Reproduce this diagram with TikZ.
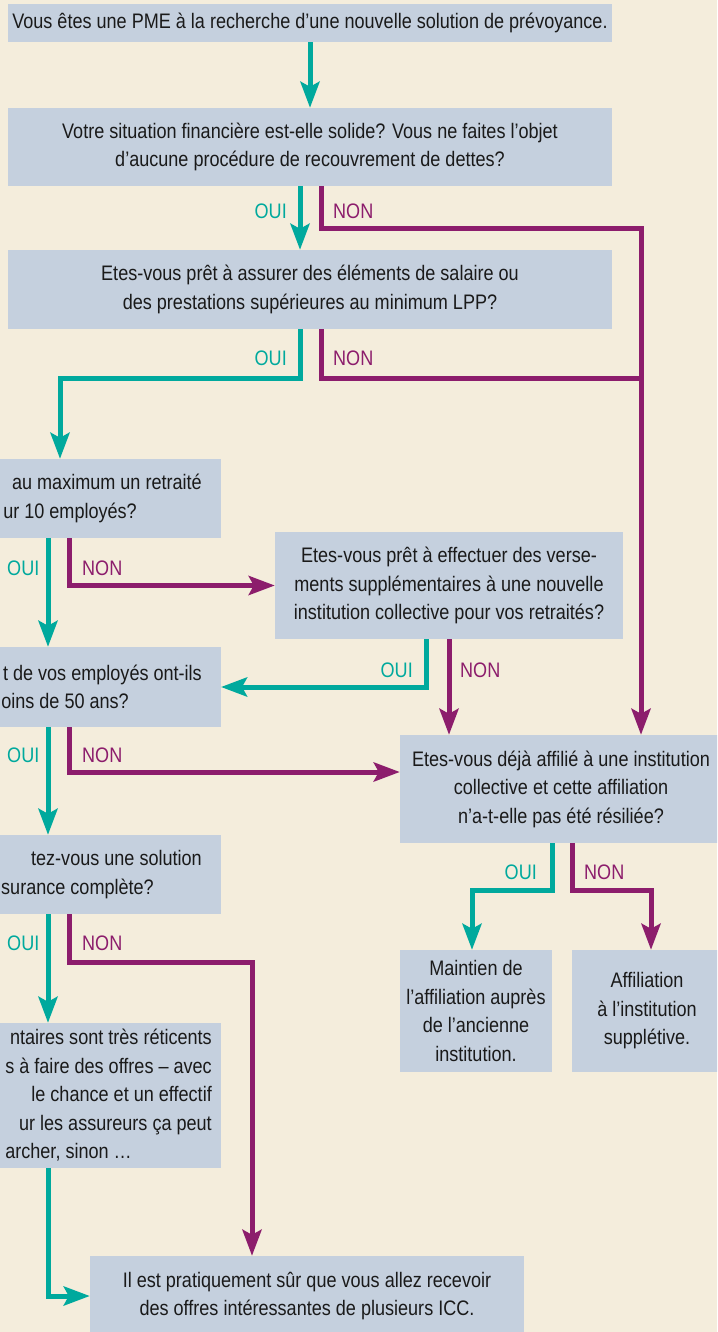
\documentclass[tikz,border=0pt]{standalone}
\usepackage{fontspec}
\setmainfont[FakeStretch=0.86]{Liberation Sans}
\usetikzlibrary{arrows.meta}

\definecolor{bgbeige}{HTML}{F4EDDC}
\definecolor{boxblue}{HTML}{C5D0DE}
\definecolor{ouiteal}{HTML}{00A99D}
\definecolor{nonpurple}{HTML}{8C1D6C}
\definecolor{txtgrey}{HTML}{1A1A1A}

\newcommand{\boxfont}{\fontsize{21}{28.5}\selectfont}

\tikzset{
  qbox/.style={fill=boxblue, text=txtgrey, align=center, inner sep=0pt, font=\boxfont},
  cutbox/.style={qbox, anchor=east, text width=300pt, align=flush right, inner ysep=0pt},
  oui/.style={draw=ouiteal, line width=5pt, -{Stealth[length=26pt,width=19pt,inset=5pt]}},
  non/.style={draw=nonpurple, line width=5pt, -{Stealth[length=26pt,width=19pt,inset=5pt]}},
  nonline/.style={draw=nonpurple, line width=5pt},
  ouilbl/.style={text=ouiteal, inner sep=0pt, font=\boxfont},
  nonlbl/.style={text=nonpurple, inner sep=0pt, font=\boxfont}
}

\begin{document}
\begin{tikzpicture}[x=1pt, y=-1pt]
    \useasboundingbox (0,0) rectangle (717,1332);
    \clip (0,0) rectangle (717,1332);
    \fill[bgbeige] (0,0) rectangle (717,1332);

    % Top questions
    \node[qbox, minimum width=604pt, minimum height=38pt] (start) at (310,23)
        {Vous êtes une PME à la recherche d’une nouvelle solution de prévoyance.};
    \node[qbox, minimum width=604pt, minimum height=78pt] (finance) at (310,147)
        {Votre situation financière est-elle solide? Vous ne faites l’objet\\d’aucune procédure de recouvrement de dettes?};
    \node[qbox, minimum width=604pt, minimum height=79pt] (lpp) at (310,289.5)
        {Etes-vous prêt à assurer des éléments de salaire ou\\des prestations supérieures au minimum LPP?};

    % Left column (cut at the page edge)
    \node[cutbox, inner xsep=19pt, minimum height=79pt] (retraite) at (221,498.5)
        {au maximum un retraité\\ur 10 employés?\hspace*{65pt}};
    \node[cutbox, inner xsep=19pt, minimum height=80pt] (moins) at (221,687)
        {t de vos employés ont-ils\hspace*{2pt}\\oins de 50 ans?\hspace*{73pt}};
    \node[cutbox, inner xsep=19pt, minimum height=79pt] (complete) at (221,874.5)
        {tez-vous une solution\hspace*{28pt}\\surance complète?\hspace*{48pt}};
    \node[cutbox, inner xsep=9pt, minimum height=145pt] (reticent) at (221,1095.5)
        {ntaires sont très réticents\hspace*{10pt}\\s à faire des offres – avec\\le chance et un effectif\hspace*{25pt}\\ur les assureurs ça peut\hspace*{14pt}\\archer, sinon …\hspace*{80pt}};

    % Right side
    \node[qbox, minimum width=348pt, minimum height=107pt] (verse) at (449,585.5)
        {Etes-vous prêt à effectuer des verse-\\ments supplémentaires à une nouvelle\\institution collective pour vos retraités?};
    \node[qbox, minimum width=322pt, minimum height=108pt] (affil) at (561,789)
        {Etes-vous déjà affilié à une institution\\collective et cette affiliation\\n’a-t-elle pas été résiliée?};
    \node[qbox, minimum width=152pt, minimum height=122pt] (maintien) at (476,1011)
        {Maintien de\\l’affiliation auprès\\de l’ancienne\\institution.};
    \node[qbox, minimum width=150pt, minimum height=122pt] (suppl) at (647,1011)
        {Affiliation\\à l’institution\\supplétive.};

    % Bottom result
    \node[qbox, minimum width=434pt, minimum height=80pt] (icc) at (307,1296)
        {Il est pratiquement sûr que vous allez recevoir\\des offres intéressantes de plusieurs ICC.};

    % Helper points
    \coordinate (ltrunk) at (48,0);
    \coordinate (rtrunk) at (69,0);
    \coordinate (ntop) at (641,229);
    \coordinate (nmid) at (641,378);
    \coordinate (ocorner) at (60,378);
    \coordinate (ncorner) at (252,962);
    \coordinate (ocorner2) at (472,890);
    \coordinate (ncorner2) at (651,890);

    % Connectors
    \draw[oui] (start.south) -- (finance.north);
    \draw[oui] ([xshift=-10pt]finance.south) -- ([xshift=-10pt]lpp.north);
    \draw[non] ([xshift=11pt]finance.south) |- (ntop) -- (ntop |- affil.north);
    \draw[oui] ([xshift=-10pt]lpp.south) |- (ocorner) -- (ocorner |- retraite.north);
    \draw[nonline] ([xshift=11pt]lpp.south) |- (nmid);

    \draw[oui] (ltrunk |- retraite.south) -- (ltrunk |- moins.north);
    \draw[non] (rtrunk |- retraite.south) |- (verse.west);
    \draw[oui] ([xshift=-23pt]verse.south) |- (moins.east);
    \draw[non] (verse.south) -- (verse.south |- affil.north);

    \draw[oui] (ltrunk |- moins.south) -- (ltrunk |- complete.north);
    \draw[non] (rtrunk |- moins.south) |- ([yshift=17pt]affil.west);

    \draw[oui] (ltrunk |- complete.south) -- (ltrunk |- reticent.north);
    \draw[non] (rtrunk |- complete.south) |- (ncorner) -- (ncorner |- icc.north);
    \draw[oui] (ltrunk |- reticent.south) |- (icc.west);

    \draw[oui] ([xshift=-9pt]affil.south) |- (ocorner2) -- (ocorner2 |- maintien.north);
    \draw[non] ([xshift=11pt]affil.south) |- (ncorner2) -- (ncorner2 |- suppl.north);

    % OUI / NON labels
    \node[ouilbl, anchor=east] (oui1) at (287,211) {OUI};
    \node[nonlbl, anchor=west] (non1) at (333,211) {NON};
    \node[ouilbl, anchor=east] (oui2) at (287,358) {OUI};
    \node[nonlbl, anchor=west] (non2) at (333,358) {NON};
    \node[ouilbl, anchor=west] (oui3) at (7,568) {OUI};
    \node[nonlbl, anchor=west] (non3) at (82,568) {NON};
    \node[ouilbl, anchor=east] (oui4) at (413,670) {OUI};
    \node[nonlbl, anchor=west] (non4) at (460,670) {NON};
    \node[ouilbl, anchor=west] (oui5) at (7,755) {OUI};
    \node[nonlbl, anchor=west] (non5) at (82,755) {NON};
    \node[ouilbl, anchor=west] (oui6) at (7,943) {OUI};
    \node[nonlbl, anchor=west] (non6) at (82,943) {NON};
    \node[ouilbl, anchor=east] (oui7) at (537,872) {OUI};
    \node[nonlbl, anchor=west] (non7) at (584,872) {NON};
\end{tikzpicture}
\end{document}
